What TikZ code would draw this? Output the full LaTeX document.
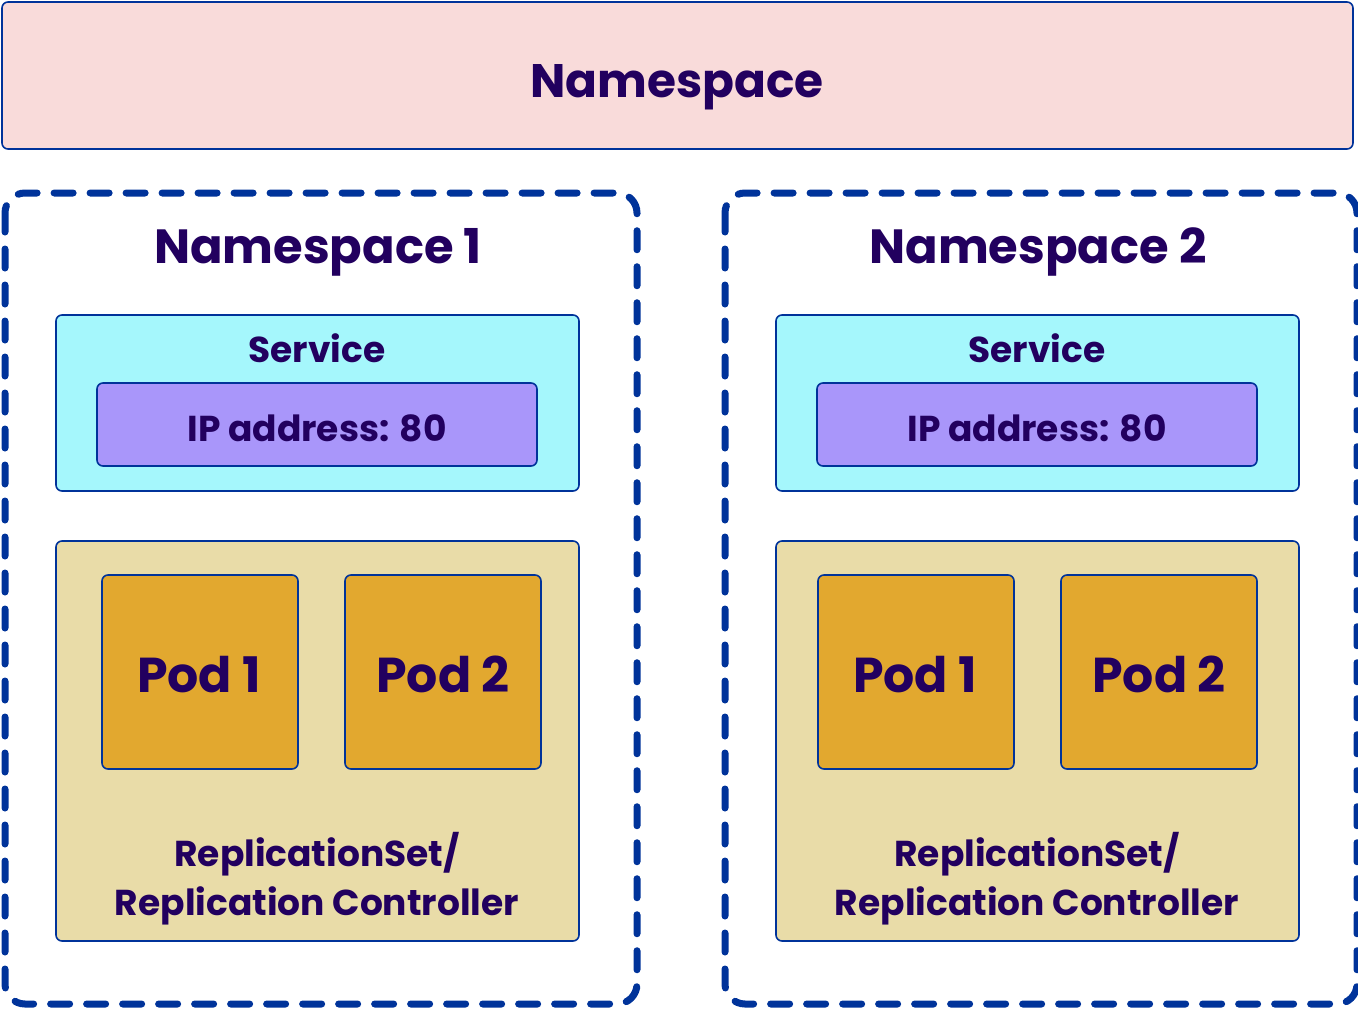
\documentclass[tikz,border=0pt]{standalone}
\usepackage{fontspec}
\setmainfont{Poppins}
\definecolor{edge}{HTML}{00339A}
\definecolor{txt}{HTML}{22005F}
\definecolor{nsfill}{HTML}{F9DBDA}
\definecolor{svcfill}{HTML}{A5F7FC}
\definecolor{ipfill}{HTML}{A996FA}
\definecolor{rsfill}{HTML}{E9DCA8}
\definecolor{podfill}{HTML}{E2A82F}
\tikzset{
  box/.style={draw=edge, line width=1.6pt, rounded corners=6pt},
  dashbox/.style={draw=edge, line width=7pt, rounded corners=20pt, line cap=round, dash pattern=on 19pt off 17pt},
  lbl/.style={text=txt, inner sep=0pt, anchor=base},
  fsz/.style={font=\fontsize{#1}{#1}\selectfont\bfseries},
}
\begin{document}
\begin{tikzpicture}[x=1pt,y=-1pt]
\useasboundingbox (0,0) rectangle (1358,1009);
% top namespace
\draw[box, fill=nsfill] (2,2) rectangle (1353,149);
\node[lbl, fsz=47] (ns) at (677,97) {Namespace};
\foreach \dx/\pdx/\n in {0/0/1,720/716/2}{
  \begin{scope}[xshift=\dx]
  \draw[dashbox] (5,193) rectangle (637,1004);
  \node[lbl, fsz=48] (nst\n) at (318,263) {Namespace \n};
  \draw[box, fill=svcfill] (56,315) rectangle (579,491);
  \node[lbl, fsz=36] (svc\n) at (317,362) {Service};
  \draw[box, fill=ipfill] (97,383) rectangle (537,466);
  \node[lbl, fsz=36] (ip\n) at (317,441) {IP address: 80};
  \draw[box, fill=rsfill] (56,541) rectangle (579,941);
  \node[lbl, fsz=36] (rsa\n) at (317,866) {ReplicationSet/};
  \node[lbl, fsz=36] (rsb\n) at (317,915) {Replication Controller};
  \end{scope}
  \begin{scope}[xshift=\pdx]
  \draw[box, fill=podfill] (102,575) rectangle (298,769);
  \node[lbl, fsz=49] (pa\n) at (199,692) {Pod 1};
  \draw[box, fill=podfill] (345,575) rectangle (541,769);
  \node[lbl, fsz=49] (pb\n) at (443,692) {Pod 2};
  \end{scope}
}
\end{tikzpicture}
\end{document}
